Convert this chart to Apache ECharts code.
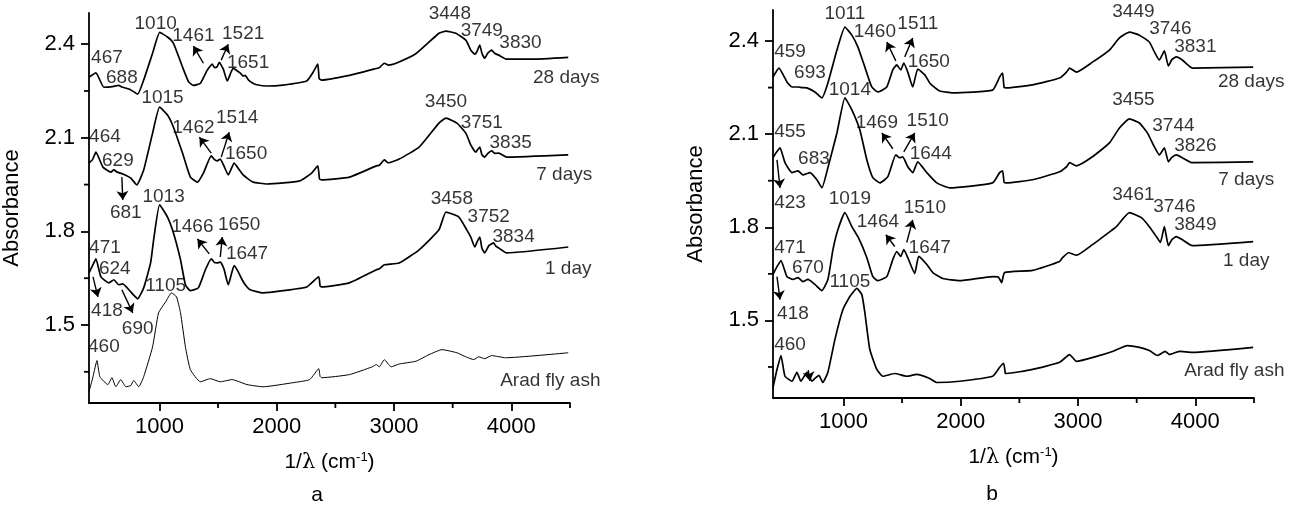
<!DOCTYPE html>
<html>
<head>
<meta charset="utf-8">
<script src="https://cdn.jsdelivr.net/npm/echarts@6.0.0/dist/echarts.min.js"></script>
<style>
  html, body { margin: 0; padding: 0; background: #fff; }
  #chart { width: 1305px; height: 509px; }
</style>
</head>
<body>
<div id="chart"></div>
<script>
// tick labels
var xTicks = [1000, 2000, 3000, 4000];
var xMinor = [1500, 2500, 3500, 4500];
var yTicks = [1.5, 1.8, 2.1, 2.4];
var yMinor = [1.35, 1.65, 1.95, 2.25];

// panel a spectra [wavenumber, absorbance]
var a28 = [[400,2.294],[459,2.308],[527,2.262],[612,2.265],[650,2.268],[688,2.262],[750,2.255],[815,2.24],[866,2.285],[942,2.371],[1003,2.438],[1069,2.423],[1120,2.403],[1197,2.327],[1248,2.28],[1290,2.268],[1350,2.275],[1408,2.317],[1451,2.336],[1470,2.325],[1493,2.328],[1510,2.342],[1545,2.32],[1578,2.282],[1629,2.323],[1650,2.318],[1690,2.307],[1714,2.298],[1730,2.3],[1760,2.285],[1798,2.275],[1830,2.27],[1917,2.266],[2053,2.269],[2255,2.282],[2310,2.31],[2350,2.336],[2362,2.29],[2383,2.285],[2620,2.3],[2849,2.322],[2875,2.325],[2917,2.339],[2950,2.333],[3018,2.339],[3188,2.37],[3383,2.435],[3443,2.442],[3527,2.435],[3612,2.413],[3654,2.381],[3688,2.368],[3705,2.375],[3731,2.397],[3750,2.37],[3773,2.355],[3800,2.372],[3832,2.381],[3860,2.37],[3892,2.365],[3960,2.352],[4172,2.352],[4485,2.358]];
var a7 = [[400,2.019],[430,2.03],[459,2.054],[519,2.006],[586,1.99],[612,1.997],[640,1.99],[688,1.984],[756,1.971],[807,1.949],[866,1.997],[942,2.115],[1002,2.198],[1069,2.173],[1120,2.134],[1197,2.051],[1264,1.974],[1324,1.958],[1375,1.987],[1442,2.042],[1470,2.03],[1493,2.026],[1519,2.032],[1550,2.01],[1587,1.981],[1637,2.019],[1680,1.998],[1714,1.981],[1750,1.97],[1798,1.958],[1917,1.952],[2197,1.962],[2298,1.987],[2350,2.01],[2365,1.968],[2383,1.965],[2620,1.974],[2849,2.01],[2875,2.012],[2917,2.029],[2950,2.02],[3044,2.032],[3214,2.07],[3383,2.147],[3443,2.163],[3536,2.147],[3612,2.115],[3654,2.077],[3697,2.054],[3712,2.062],[3731,2.07],[3750,2.045],[3773,2.038],[3800,2.05],[3832,2.058],[3860,2.05],[3892,2.051],[3960,2.038],[4485,2.045]];
var a1 = [[400,1.667],[430,1.69],[459,1.712],[502,1.654],[570,1.635],[612,1.645],[654,1.629],[688,1.632],[756,1.606],[815,1.584],[866,1.619],[925,1.699],[951,1.773],[1002,1.885],[1069,1.846],[1120,1.795],[1180,1.709],[1222,1.629],[1264,1.61],[1332,1.619],[1392,1.677],[1442,1.712],[1470,1.7],[1493,1.699],[1519,1.702],[1550,1.68],[1587,1.629],[1637,1.69],[1670,1.672],[1705,1.645],[1740,1.625],[1773,1.613],[1883,1.603],[2053,1.61],[2256,1.622],[2358,1.654],[2370,1.625],[2383,1.622],[2620,1.635],[2849,1.677],[2875,1.68],[2917,1.693],[3044,1.699],[3214,1.741],[3383,1.805],[3443,1.862],[3553,1.846],[3620,1.805],[3654,1.782],[3688,1.75],[3710,1.768],[3731,1.782],[3750,1.745],[3773,1.731],[3810,1.755],[3849,1.763],[3870,1.752],[3892,1.747],[3960,1.731],[4485,1.75]];
var aFly = [[400,1.286],[434,1.334],[468,1.386],[493,1.334],[561,1.309],[595,1.331],[629,1.302],[671,1.325],[714,1.302],[756,1.306],[781,1.322],[824,1.302],[866,1.334],[942,1.43],[993,1.539],[1053,1.574],[1103,1.603],[1146,1.59],[1180,1.539],[1222,1.43],[1264,1.357],[1349,1.318],[1434,1.328],[1519,1.318],[1620,1.325],[1747,1.309],[1883,1.302],[2137,1.315],[2281,1.325],[2358,1.36],[2370,1.335],[2383,1.331],[2620,1.341],[2815,1.366],[2849,1.373],[2875,1.366],[2917,1.389],[2976,1.366],[3044,1.375],[3188,1.384],[3298,1.405],[3409,1.421],[3536,1.411],[3612,1.398],[3680,1.389],[3722,1.398],[3773,1.392],[3832,1.402],[3951,1.395],[4485,1.411]];

// panel b spectra
var b28 = [[400,2.284],[451,2.313],[519,2.268],[562,2.252],[613,2.252],[650,2.25],[689,2.249],[757,2.236],[817,2.217],[868,2.265],[945,2.371],[1013,2.445],[1072,2.419],[1123,2.381],[1183,2.316],[1242,2.252],[1294,2.236],[1370,2.252],[1421,2.307],[1455,2.323],[1489,2.307],[1515,2.329],[1549,2.3],[1591,2.252],[1634,2.31],[1694,2.291],[1736,2.265],[1780,2.25],[1821,2.239],[1932,2.233],[2272,2.242],[2332,2.284],[2357,2.297],[2370,2.25],[2391,2.249],[2613,2.259],[2843,2.281],[2902,2.3],[2928,2.313],[2987,2.3],[3123,2.332],[3268,2.371],[3353,2.41],[3438,2.429],[3523,2.419],[3608,2.397],[3651,2.365],[3693,2.339],[3736,2.368],[3770,2.32],[3800,2.34],[3838,2.349],[3889,2.339],[3974,2.313],[4493,2.316]];
var b7 = [[400,2.024],[426,2.04],[460,2.056],[502,2.008],[562,1.976],[613,1.982],[655,1.969],[715,1.976],[774,1.953],[817,1.927],[868,1.992],[945,2.104],[1013,2.217],[1072,2.178],[1140,2.114],[1200,2.017],[1251,1.96],[1311,1.943],[1379,1.963],[1447,2.033],[1481,2.024],[1506,2.027],[1549,1.995],[1591,1.976],[1634,2.011],[1711,1.976],[1796,1.943],[1906,1.927],[2272,1.943],[2332,1.976],[2357,1.982],[2370,1.945],[2391,1.943],[2613,1.953],[2843,1.979],[2902,1.995],[2928,2.008],[2987,1.998],[3123,2.027],[3268,2.072],[3353,2.12],[3438,2.149],[3523,2.136],[3591,2.104],[3651,2.059],[3693,2.033],[3736,2.056],[3770,2.011],[3800,2.025],[3838,2.033],[3889,2.024],[3974,2.008],[4493,2.011]];
var b1 = [[400,1.648],[434,1.673],[468,1.693],[519,1.641],[570,1.632],[613,1.638],[655,1.625],[698,1.632],[757,1.616],[817,1.596],[868,1.632],[911,1.728],[953,1.792],[1013,1.847],[1072,1.802],[1130,1.765],[1200,1.702],[1251,1.641],[1294,1.628],[1370,1.641],[1421,1.696],[1455,1.722],[1489,1.706],[1515,1.728],[1549,1.702],[1608,1.651],[1642,1.706],[1711,1.68],[1762,1.654],[1847,1.635],[1991,1.628],[2272,1.641],[2320,1.64],[2349,1.622],[2374,1.654],[2613,1.661],[2843,1.69],[2868,1.702],[2919,1.718],[2987,1.71],[3123,1.744],[3293,1.792],[3327,1.802],[3438,1.847],[3540,1.831],[3608,1.802],[3668,1.77],[3702,1.751],[3736,1.802],[3770,1.741],[3800,1.76],[3838,1.77],[3889,1.76],[3974,1.741],[4493,1.754]];
var bFly = [[400,1.284],[434,1.342],[468,1.387],[502,1.32],[562,1.304],[604,1.333],[638,1.304],[689,1.333],[732,1.304],[757,1.313],[791,1.323],[825,1.3],[868,1.333],[928,1.439],[996,1.535],[1055,1.577],[1115,1.603],[1157,1.583],[1183,1.525],[1225,1.407],[1285,1.342],[1336,1.32],[1438,1.329],[1540,1.32],[1625,1.326],[1736,1.313],[1796,1.3],[1991,1.304],[2272,1.32],[2332,1.349],[2366,1.362],[2380,1.33],[2391,1.329],[2613,1.342],[2843,1.365],[2928,1.39],[2987,1.368],[3157,1.384],[3293,1.4],[3421,1.419],[3523,1.413],[3608,1.403],[3676,1.387],[3744,1.4],[3778,1.39],[3864,1.4],[3974,1.397],[4493,1.413]];

// peak annotations [x, y, text]
var aLabels = [
  [968,2.467,'1010'],[1290,2.426,'1461'],[1714,2.432,'1521'],[1756,2.342,'1651'],[553,2.355,'467'],[680,2.294,'688'],
  [3476,2.499,'3448'],[3748,2.442,'3749'],[4078,2.403,'3830'],[4468,2.294,'28 days'],
  [1027,2.227,'1015'],[536,2.102,'464'],[646,2.026,'629'],[714,1.859,'681'],[1290,2.131,'1462'],[1663,2.163,'1514'],[1739,2.048,'1650'],
  [3443,2.214,'3450'],[3748,2.147,'3751'],[3994,2.083,'3835'],[4451,1.981,'7 days'],
  [1036,1.91,'1013'],[1281,1.814,'1466'],[1680,1.821,'1650'],[1747,1.728,'1647'],[536,1.747,'471'],[620,1.68,'624'],[553,1.546,'418'],[815,1.488,'690'],
  [3493,1.904,'3458'],[3807,1.846,'3752'],[4019,1.782,'3834'],[4485,1.68,'1 day'],
  [1053,1.626,'1105'],[527,1.43,'460'],[4332,1.322,'Arad fly ash']
];
var bLabels = [
  [1013,2.487,'1011'],[1268,2.429,'1460'],[1634,2.455,'1511'],[1728,2.332,'1650'],[545,2.365,'459'],[715,2.297,'693'],
  [3472,2.493,'3449'],[3787,2.439,'3746'],[4000,2.381,'3831'],[4476,2.268,'28 days'],
  [1055,2.242,'1014'],[545,2.107,'455'],[749,2.021,'683'],[545,1.879,'423'],[1285,2.136,'1469'],[1719,2.143,'1510'],[1745,2.037,'1644'],
  [3472,2.21,'3455'],[3813,2.127,'3744'],[4000,2.062,'3826'],[4434,1.953,'7 days'],
  [1055,1.892,'1019'],[1294,1.818,'1464'],[1694,1.863,'1510'],[1736,1.734,'1647'],[545,1.734,'471'],[698,1.67,'670'],[570,1.522,'418'],
  [3472,1.905,'3461'],[3821,1.866,'3746'],[4000,1.808,'3849'],[4434,1.693,'1 day'],
  [1055,1.625,'1105'],[545,1.423,'460'],[4332,1.339,'Arad fly ash']
];

// arrows [from, to]
var aArrows = [
  [[1375,2.339],[1290,2.394]],[[1527,2.349],[1587,2.4]],
  [[680,1.974],[688,1.901]],[[1442,2.051],[1341,2.102]],[[1527,2.038],[1595,2.118]],
  [[1425,1.728],[1324,1.776]],[[1519,1.718],[1536,1.782]],[[434,1.654],[476,1.59]],[[680,1.613],[773,1.539]]
];
var bArrows = [
  [[1447,2.336],[1370,2.397]],[[1523,2.349],[1591,2.41]],
  [[434,2.017],[460,1.927]],[[1421,2.053],[1328,2.104]],[[1515,2.043],[1608,2.104]],
  [[1438,1.738],[1362,1.776]],[[1540,1.751],[1591,1.824]],[[434,1.641],[460,1.567]],
  [[700,1.34],[715,1.305]]
];

var FONT = 'Liberation Sans, Arial, sans-serif';
var X_MIN = 400, X_MAX = 4500, Y_MIN = 1.25, Y_MAX = 2.5;
var grids = [
  { left: 87, top: 13, width: 483, height: 390 },
  { left: 773, top: 10, width: 481, height: 388 }
];
function tickStyle() { return { color: '#000', width: 1.8 }; }

function xAxisOf(g) {
  return {
    gridIndex: g, type: 'value', min: X_MIN, max: X_MAX,
    axisLine: { lineStyle: tickStyle() },
    axisTick: { customValues: xTicks, length: 8, lineStyle: tickStyle() },
    axisLabel: { customValues: xTicks, fontSize: 22, color: '#000', fontFamily: FONT, margin: 13,
      formatter: function (v) { return String(v); } },
    splitLine: { show: false },
    name: '1/{l|λ} (cm{s|-1})', nameLocation: 'middle', nameGap: 48,
    nameTextStyle: {
      fontSize: 21, color: '#000', fontFamily: FONT,
      rich: {
        l: { fontSize: 21, color: '#000', fontFamily: 'DejaVu Serif, serif' },
        s: { fontSize: 13, color: '#000', fontFamily: FONT, padding: [0, 0, 10, 0] }
      }
    }
  };
}
function yAxisOf(g) {
  return {
    gridIndex: g, type: 'value', min: Y_MIN, max: Y_MAX,
    axisLine: { show: true, lineStyle: tickStyle() },
    axisTick: { show: true, customValues: yTicks, length: 8, lineStyle: tickStyle() },
    axisLabel: { customValues: yTicks, fontSize: 22, color: '#000', fontFamily: FONT, margin: 14,
      formatter: function (v) { return v.toFixed(1); } },
    splitLine: { show: false },
    name: 'Absorbance', nameLocation: 'middle', nameGap: 66,
    nameTextStyle: { fontSize: 22, color: '#000', fontFamily: FONT }
  };
}

function spectrum(data, ax, w) {
  return {
    type: 'line', data: data, xAxisIndex: ax, yAxisIndex: ax,
    showSymbol: false, symbol: 'none', silent: true, smooth: 0.15,
    lineStyle: { color: '#000', width: w }
  };
}
function labels(list, ax) {
  return {
    type: 'scatter', xAxisIndex: ax, yAxisIndex: ax, symbolSize: 0, silent: true,
    itemStyle: { color: 'rgba(0,0,0,0)' },
    label: { show: true, position: 'inside', formatter: '{b}', fontSize: 19, color: '#000', fontFamily: FONT },
    data: list.map(function (l) { return { name: l[2], value: [l[0], l[1]] }; })
  };
}
function arrows(list, ax) {
  return {
    type: 'lines', coordinateSystem: 'cartesian2d', xAxisIndex: ax, yAxisIndex: ax, silent: true,
    symbol: ['none', 'arrow'], symbolSize: 9,
    lineStyle: { color: '#000', width: 1.4, opacity: 1, curveness: 0 },
    data: list.map(function (c) { return { coords: c }; })
  };
}

var myChart = echarts.init(document.getElementById('chart'));
myChart.setOption({
  backgroundColor: '#fff',
  animation: false,
  grid: grids,
  xAxis: [xAxisOf(0), xAxisOf(1)],
  yAxis: [yAxisOf(0), yAxisOf(1)],
  series: [
    spectrum(aFly, 0, 1), spectrum(a1, 0, 1.7), spectrum(a7, 0, 1.7), spectrum(a28, 0, 1.7),
    labels(aLabels, 0), arrows(aArrows, 0),
    spectrum(bFly, 1, 1.7), spectrum(b1, 1, 1.7), spectrum(b7, 1, 1.7), spectrum(b28, 1, 1.7),
    labels(bLabels, 1), arrows(bArrows, 1)
  ]
});

// minor ticks (short, outward) placed through the axes' own scales, plus the panel letters
var extra = [
  { type: 'text', x: 317, y: 495, style: { text: 'a', fontSize: 21, fontFamily: FONT, fill: '#000', textAlign: 'center', textVerticalAlign: 'middle' } },
  { type: 'text', x: 992, y: 494, style: { text: 'b', fontSize: 21, fontFamily: FONT, fill: '#000', textAlign: 'center', textVerticalAlign: 'middle' } }
];
[0, 1].forEach(function (g) {
  var x0 = myChart.convertToPixel({ xAxisIndex: g }, X_MIN);
  var y0 = myChart.convertToPixel({ yAxisIndex: g }, Y_MIN);
  xMinor.forEach(function (v) {
    var px = myChart.convertToPixel({ xAxisIndex: g }, v);
    extra.push({ type: 'line', silent: true, shape: { x1: px, y1: y0, x2: px, y2: y0 + 5 }, style: { stroke: '#000', lineWidth: 1.8 } });
  });
  yMinor.forEach(function (v) {
    var py = myChart.convertToPixel({ yAxisIndex: g }, v);
    extra.push({ type: 'line', silent: true, shape: { x1: x0 - 5, y1: py, x2: x0, y2: py }, style: { stroke: '#000', lineWidth: 1.8 } });
  });
});
myChart.setOption({ graphic: extra });
</script>
</body>
</html>
